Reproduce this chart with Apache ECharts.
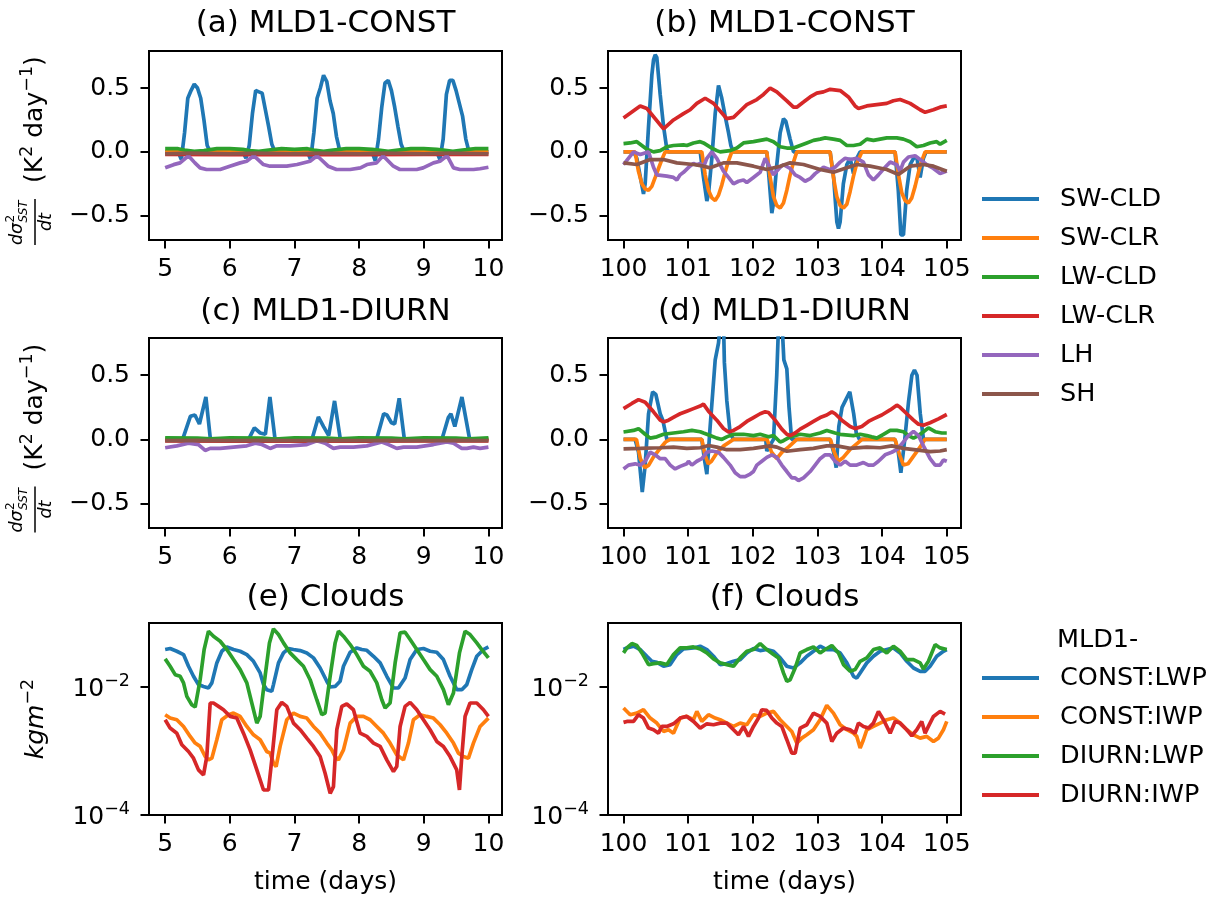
<!DOCTYPE html>
<html><head><meta charset="utf-8">
<script src="https://cdn.jsdelivr.net/npm/echarts@6/dist/echarts.min.js"></script>
<style>html,body{margin:0;padding:0;background:#fff}#c{width:1226px;height:898px}</style>
</head><body><div id="c"></div>
<script>
// ---------- tick values / labels ----------
const xTicksEarly = [5, 6, 7, 8, 9, 10];
const xTicksLate = [100, 101, 102, 103, 104, 105];
const yTicksFlux = [-0.5, 0, 0.5];
const yTicksCloud = [0.0001, 0.01];
const fluxNames = ['SW-CLD', 'SW-CLR', 'LW-CLD', 'LW-CLR', 'LH', 'SH'];
const cloudNames = ['CONST:LWP', 'CONST:IWP', 'DIURN:LWP', 'DIURN:IWP'];
const panelTitles = ['(a) MLD1-CONST', '(b) MLD1-CONST', '(c) MLD1-DIURN', '(d) MLD1-DIURN', '(e) Clouds', '(f) Clouds'];

// ---------- panel (a): MLD1-CONST, days 5-10 ----------
const a_SWCLD = [[5,0],[5.2,0],[5.25,-0.06],[5.3,0.15],[5.35,0.42],[5.4,0.48],[5.45,0.53],[5.5,0.5],[5.55,0.42],[5.6,0.25],[5.65,0.05],[5.7,0],[6.2,0],[6.25,-0.05],[6.3,0.05],[6.35,0.3],[6.4,0.48],[6.45,0.47],[6.5,0.46],[6.55,0.33],[6.6,0.2],[6.65,0.06],[6.7,0],[7.2,0],[7.25,-0.06],[7.3,0.15],[7.35,0.42],[7.4,0.5],[7.45,0.6],[7.5,0.55],[7.55,0.4],[7.6,0.3],[7.65,0.12],[7.7,0.01],[7.75,0],[8.2,0],[8.25,-0.07],[8.3,0.1],[8.35,0.35],[8.4,0.54],[8.45,0.56],[8.5,0.48],[8.55,0.35],[8.6,0.2],[8.65,0.06],[8.7,0],[9.2,0],[9.25,-0.06],[9.3,0.1],[9.35,0.45],[9.4,0.56],[9.45,0.56],[9.5,0.48],[9.55,0.38],[9.6,0.28],[9.65,0.1],[9.7,0],[10,0]];
const a_SWCLR = [[5,0],[6,0],[7,0],[8,0],[9,0],[10,0]];
const a_LWCLD = [[5,0.025],[5.2,0.025],[5.3,0.015],[5.45,0.005],[5.6,0.01],[5.8,0.025],[6.0,0.025],[6.2,0.02],[6.3,0.01],[6.45,0.005],[6.6,0.015],[6.8,0.025],[7.0,0.02],[7.2,0.025],[7.3,0.015],[7.45,0.005],[7.6,0.015],[7.8,0.025],[8.0,0.025],[8.2,0.02],[8.3,0.015],[8.45,0.005],[8.6,0.015],[8.8,0.025],[9.0,0.025],[9.2,0.02],[9.3,0.015],[9.45,0.005],[9.6,0.015],[9.8,0.025],[10,0.025]];
const a_LWCLR = [[5,-0.02],[6,-0.022],[7,-0.02],[8,-0.022],[9,-0.02],[10,-0.02]];
const a_LH = [[5,-0.125],[5.13,-0.1],[5.23,-0.086],[5.36,-0.03],[5.46,-0.086],[5.54,-0.125],[5.64,-0.138],[5.85,-0.138],[6.0,-0.112],[6.16,-0.086],[6.26,-0.073],[6.37,-0.03],[6.52,-0.099],[6.62,-0.112],[6.88,-0.112],[7.04,-0.099],[7.24,-0.073],[7.35,-0.03],[7.52,-0.112],[7.65,-0.138],[7.86,-0.138],[8.02,-0.125],[8.12,-0.099],[8.27,-0.086],[8.37,-0.03],[8.53,-0.112],[8.63,-0.138],[8.89,-0.138],[8.99,-0.125],[9.15,-0.086],[9.25,-0.073],[9.36,-0.03],[9.46,-0.125],[9.56,-0.138],[9.77,-0.138],[9.87,-0.132],[10,-0.12]];
const a_SH = [[5,-0.015],[5.4,-0.01],[6,-0.015],[6.4,-0.01],[7,-0.015],[7.4,-0.01],[8,-0.015],[8.4,-0.01],[9,-0.015],[9.4,-0.01],[10,-0.015]];

// ---------- panel (b): MLD1-CONST, days 100-105 ----------
const b_SWCLD = [[100,0],[100.155,0],[100.206,-0.05],[100.309,-0.33],[100.335,-0.25],[100.387,0.2],[100.438,0.6],[100.464,0.72],[100.49,0.76],[100.515,0.74],[100.567,0.45],[100.619,0.2],[100.67,0.02],[100.7,0],[101.186,0],[101.237,-0.2],[101.289,-0.385],[101.314,-0.33],[101.366,-0.05],[101.418,0.3],[101.469,0.52],[101.52,0.42],[101.572,0.28],[101.624,0.15],[101.66,0.05],[101.7,0],[102.216,0],[102.25,-0.2],[102.294,-0.48],[102.32,-0.4],[102.371,-0.1],[102.423,0.15],[102.474,0.26],[102.51,0.24],[102.577,0.1],[102.629,0],[103.196,0],[103.25,-0.2],[103.3,-0.55],[103.325,-0.6],[103.35,-0.55],[103.4,-0.25],[103.454,-0.1],[103.505,-0.05],[103.557,-0.17],[103.608,-0.05],[103.66,0],[104.2,0],[104.25,-0.3],[104.29,-0.65],[104.33,-0.65],[104.38,-0.3],[104.433,-0.1],[104.485,-0.05],[104.536,-0.04],[104.588,-0.2],[104.639,-0.05],[104.68,0],[105,0]];
const b_SWCLR = [[100,0],[100.18,0],[100.23,-0.15],[100.284,-0.25],[100.335,-0.29],[100.387,-0.3],[100.438,-0.27],[100.49,-0.2],[100.541,-0.13],[100.593,-0.06],[100.644,0],[101.211,0],[101.263,-0.18],[101.314,-0.3],[101.366,-0.36],[101.418,-0.38],[101.469,-0.34],[101.52,-0.26],[101.572,-0.16],[101.624,-0.07],[101.675,0],[102.216,0],[102.268,-0.2],[102.32,-0.35],[102.371,-0.42],[102.423,-0.44],[102.474,-0.4],[102.526,-0.3],[102.577,-0.18],[102.629,-0.08],[102.68,0],[103.196,0],[103.247,-0.2],[103.299,-0.35],[103.351,-0.42],[103.402,-0.44],[103.454,-0.41],[103.505,-0.31],[103.557,-0.19],[103.608,-0.09],[103.686,0],[104.2,0],[104.253,-0.18],[104.304,-0.32],[104.355,-0.38],[104.407,-0.4],[104.459,-0.36],[104.51,-0.27],[104.562,-0.16],[104.613,-0.07],[104.665,0],[105,0]];
const b_LWCLD = [[100,0.065],[100.103,0.07],[100.206,0.08],[100.361,0.02],[100.464,0],[100.567,0.01],[100.67,0.04],[100.773,0.05],[100.928,0.055],[100.979,0.05],[101.082,0.07],[101.186,0.08],[101.237,0.07],[101.366,0.03],[101.443,0.01],[101.495,0],[101.649,0.01],[101.753,0.03],[101.856,0.07],[102.01,0.08],[102.113,0.09],[102.216,0.1],[102.32,0.08],[102.423,0.04],[102.526,0.03],[102.629,0.03],[102.732,0.05],[102.835,0.07],[102.938,0.09],[103.041,0.1],[103.119,0.11],[103.247,0.1],[103.351,0.09],[103.454,0.05],[103.557,0.05],[103.66,0.06],[103.763,0.1],[103.866,0.09],[103.969,0.1],[104.072,0.11],[104.227,0.11],[104.33,0.1],[104.433,0.08],[104.536,0.04],[104.639,0.05],[104.742,0.07],[104.845,0.08],[104.897,0.06],[105,0.09]];
const b_LWCLR = [[100,0.266],[100.258,0.36],[100.361,0.34],[100.619,0.18],[100.773,0.25],[100.928,0.3],[101.031,0.33],[101.134,0.38],[101.263,0.42],[101.392,0.38],[101.598,0.26],[101.701,0.27],[101.804,0.32],[101.907,0.37],[102.062,0.41],[102.165,0.45],[102.268,0.5],[102.371,0.47],[102.526,0.4],[102.629,0.35],[102.68,0.35],[102.784,0.39],[102.887,0.43],[102.99,0.46],[103.093,0.47],[103.196,0.49],[103.351,0.48],[103.479,0.43],[103.582,0.36],[103.634,0.34],[103.763,0.36],[103.918,0.37],[104.072,0.38],[104.175,0.4],[104.278,0.41],[104.433,0.38],[104.588,0.33],[104.665,0.31],[104.794,0.33],[104.897,0.35],[105,0.36]];
const b_LH = [[100,-0.1],[100.155,0],[100.258,-0.02],[100.387,0],[100.464,-0.12],[100.515,-0.18],[100.67,-0.19],[100.773,-0.2],[100.825,-0.22],[100.876,-0.18],[100.928,-0.16],[101.031,-0.11],[101.082,-0.09],[101.134,-0.1],[101.186,-0.09],[101.237,-0.12],[101.289,-0.05],[101.366,0],[101.443,-0.05],[101.546,-0.15],[101.624,-0.2],[101.701,-0.25],[101.778,-0.23],[101.856,-0.22],[101.907,-0.24],[102.01,-0.2],[102.113,-0.16],[102.191,-0.05],[102.242,-0.1],[102.32,-0.18],[102.423,-0.12],[102.474,-0.1],[102.577,-0.13],[102.655,-0.18],[102.732,-0.2],[102.809,-0.23],[102.887,-0.21],[102.964,-0.17],[103.093,-0.12],[103.196,-0.14],[103.273,-0.12],[103.351,-0.08],[103.428,-0.05],[103.505,-0.06],[103.608,-0.05],[103.711,-0.08],[103.789,-0.18],[103.866,-0.22],[103.943,-0.18],[104.046,-0.12],[104.124,-0.08],[104.227,-0.1],[104.278,-0.15],[104.33,-0.08],[104.407,-0.04],[104.51,-0.03],[104.588,-0.06],[104.691,-0.1],[104.794,-0.13],[104.897,-0.17],[105,-0.15]];
const b_SH = [[100,-0.086],[100.206,-0.099],[100.412,-0.06],[100.619,-0.06],[100.825,-0.086],[101.082,-0.099],[101.237,-0.112],[101.34,-0.125],[101.546,-0.086],[101.753,-0.086],[102.01,-0.112],[102.216,-0.138],[102.423,-0.112],[102.577,-0.086],[102.784,-0.099],[103.041,-0.138],[103.247,-0.159],[103.454,-0.125],[103.608,-0.099],[103.814,-0.112],[104.072,-0.138],[104.253,-0.177],[104.433,-0.112],[104.639,-0.099],[104.794,-0.112],[105,-0.151]];

// ---------- panel (c): MLD1-DIURN, days 5-10 ----------
const c_SWCLD = [[5,0],[5.27,0],[5.39,0.18],[5.46,0.19],[5.53,0.12],[5.63,0.33],[5.7,0],[6.29,0],[6.38,0.09],[6.47,0.05],[6.55,0.04],[6.62,0.33],[6.7,0],[7.27,0],[7.37,0.175],[7.45,0.1],[7.53,0.03],[7.62,0.3],[7.71,0],[8.27,0],[8.38,0.2],[8.43,0.19],[8.5,0.13],[8.55,0.12],[8.62,0.32],[8.7,0],[9.28,0],[9.38,0.17],[9.42,0.2],[9.48,0.1],[9.59,0.33],[9.61,0.34],[9.71,0],[10,0]];
const c_SWCLR = [[5,0],[6,0],[7,0],[8,0],[9,0],[10,0]];
const c_LWCLD = [[5,0.012],[5.5,0.01],[5.7,0.005],[6,0.012],[6.5,0.01],[6.7,0.003],[7,0.012],[7.5,0.01],[7.7,0.005],[8,0.012],[8.5,0.01],[8.7,0.005],[9,0.012],[9.5,0.01],[9.7,0.005],[10,0.012]];
const c_LWCLR = [[5,-0.012],[6,-0.013],[7,-0.012],[8,-0.013],[9,-0.012],[10,-0.012]];
const c_LH = [[5,-0.065],[5.18,-0.05],[5.361,-0.03],[5.515,-0.04],[5.619,-0.086],[5.696,-0.07],[5.851,-0.07],[6.057,-0.06],[6.263,-0.05],[6.392,-0.03],[6.495,-0.04],[6.624,-0.07],[6.727,-0.05],[6.933,-0.05],[7.191,-0.04],[7.345,-0.01],[7.474,-0.03],[7.603,-0.07],[7.706,-0.06],[7.912,-0.06],[8.119,-0.05],[8.351,-0.02],[8.454,-0.04],[8.582,-0.07],[8.686,-0.06],[8.892,-0.06],[9.149,-0.04],[9.356,-0.02],[9.459,-0.03],[9.588,-0.07],[9.665,-0.07],[9.768,-0.06],[9.871,-0.07],[10,-0.06]];
const c_SH = [[5,-0.01],[5.5,-0.008],[6,-0.01],[6.5,-0.008],[7,-0.01],[7.5,-0.008],[8,-0.01],[8.5,-0.008],[9,-0.01],[9.5,-0.008],[10,-0.01]];

// ---------- panel (d): MLD1-DIURN, days 100-105 ----------
const d_SWCLD = [[100,0],[100.18,0],[100.232,-0.1],[100.29,-0.41],[100.335,-0.2],[100.387,0.2],[100.45,0.37],[100.5,0.35],[100.567,0.2],[100.608,0.15],[100.67,0],[101.211,0],[101.25,-0.15],[101.289,-0.27],[101.34,0.1],[101.418,0.62],[101.469,0.75],[101.5,0.92],[101.546,0.92],[101.56,0.6],[101.598,0.3],[101.649,0.05],[101.7,0],[102.2,0],[102.216,-0.09],[102.32,0],[102.37,0.5],[102.4,0.92],[102.45,0.92],[102.48,0.62],[102.526,0.55],[102.56,0.25],[102.6,0],[103.196,0],[103.25,-0.1],[103.29,-0.22],[103.33,0.1],[103.38,0.25],[103.43,0.3],[103.5,0.37],[103.56,0.2],[103.6,0.05],[103.65,0],[104.2,0],[104.25,-0.1],[104.29,-0.26],[104.35,0],[104.41,0.3],[104.46,0.5],[104.5,0.54],[104.54,0.5],[104.59,0.2],[104.64,0],[105,0]];
const d_SWCLR = [[100,0],[100.2,0],[100.26,-0.15],[100.33,-0.22],[100.39,-0.2],[100.46,-0.14],[100.55,-0.08],[100.65,-0.02],[100.72,0],[101.211,0],[101.26,-0.12],[101.31,-0.19],[101.36,-0.17],[101.45,-0.1],[101.55,-0.05],[101.7,0],[102.22,0],[102.29,-0.1],[102.37,-0.15],[102.45,-0.1],[102.55,-0.06],[102.68,0],[103.2,0],[103.26,-0.1],[103.32,-0.17],[103.4,-0.14],[103.5,-0.08],[103.69,0],[104.2,0],[104.27,-0.12],[104.33,-0.2],[104.4,-0.19],[104.5,-0.12],[104.6,-0.05],[104.66,0],[105,0]];
const d_LWCLD = [[100,0.058],[100.155,0.07],[100.232,0.084],[100.335,0.04],[100.412,0.01],[100.515,0.02],[100.619,0.04],[100.773,0.05],[100.928,0.06],[101.057,0.07],[101.186,0.06],[101.237,0.05],[101.34,0.03],[101.443,0.01],[101.521,0],[101.598,0.02],[101.701,0.04],[101.856,0.04],[102.01,0.03],[102.113,0.04],[102.242,0.02],[102.32,0.03],[102.423,-0.02],[102.474,-0.01],[102.577,0.02],[102.732,0.04],[102.887,0.03],[103.041,0.05],[103.144,0.07],[103.273,0.05],[103.351,0.04],[103.557,0.03],[103.66,0.04],[103.763,0.03],[103.84,0.02],[103.918,0.01],[104.021,0.04],[104.124,0.07],[104.227,0.07],[104.33,0.06],[104.407,0.03],[104.485,0.01],[104.562,0.03],[104.665,0.07],[104.716,0.09],[104.82,0.06],[104.923,0.05],[105,0.05]];
const d_LWCLR = [[100,0.24],[100.129,0.28],[100.232,0.31],[100.335,0.29],[100.464,0.215],[100.567,0.15],[100.619,0.136],[100.696,0.15],[100.799,0.18],[100.876,0.2],[100.979,0.22],[101.082,0.24],[101.186,0.26],[101.237,0.275],[101.314,0.22],[101.443,0.15],[101.546,0.085],[101.624,0.058],[101.701,0.07],[101.804,0.1],[101.907,0.14],[102.01,0.17],[102.113,0.2],[102.191,0.215],[102.242,0.21],[102.345,0.15],[102.448,0.08],[102.526,0.04],[102.577,0.03],[102.655,0.05],[102.732,0.08],[102.835,0.11],[102.938,0.14],[103.041,0.17],[103.144,0.19],[103.222,0.215],[103.273,0.2],[103.376,0.15],[103.505,0.1],[103.582,0.084],[103.686,0.1],[103.789,0.14],[103.866,0.16],[103.995,0.19],[104.124,0.23],[104.227,0.267],[104.278,0.25],[104.381,0.2],[104.485,0.15],[104.562,0.118],[104.639,0.11],[104.742,0.13],[104.871,0.16],[105,0.194]];
const d_LH = [[100,-0.23],[100.077,-0.2],[100.18,-0.19],[100.258,-0.2],[100.335,-0.17],[100.412,-0.1],[100.49,-0.12],[100.567,-0.15],[100.644,-0.15],[100.722,-0.2],[100.799,-0.23],[100.876,-0.21],[100.979,-0.19],[101.005,-0.17],[101.057,-0.2],[101.134,-0.17],[101.211,-0.15],[101.289,-0.1],[101.366,-0.09],[101.469,-0.1],[101.546,-0.14],[101.649,-0.2],[101.727,-0.26],[101.804,-0.29],[101.881,-0.29],[101.959,-0.27],[102.01,-0.25],[102.062,-0.2],[102.139,-0.17],[102.216,-0.14],[102.294,-0.12],[102.371,-0.14],[102.448,-0.2],[102.526,-0.25],[102.603,-0.3],[102.655,-0.3],[102.706,-0.32],[102.784,-0.3],[102.887,-0.25],[102.964,-0.2],[103.041,-0.15],[103.119,-0.12],[103.196,-0.12],[103.273,-0.17],[103.351,-0.2],[103.428,-0.17],[103.505,-0.2],[103.608,-0.2],[103.711,-0.18],[103.789,-0.2],[103.866,-0.2],[103.943,-0.17],[104.046,-0.12],[104.149,-0.1],[104.227,-0.08],[104.33,-0.02],[104.407,0.03],[104.485,0.063],[104.562,0.03],[104.639,-0.05],[104.742,-0.15],[104.82,-0.2],[104.897,-0.2],[104.948,-0.16],[105,-0.17]];
const d_SH = [[100,-0.073],[100.258,-0.07],[100.567,-0.065],[100.773,-0.06],[100.979,-0.07],[101.186,-0.065],[101.314,-0.047],[101.443,-0.06],[101.598,-0.08],[101.804,-0.08],[102.01,-0.07],[102.268,-0.05],[102.371,-0.06],[102.526,-0.092],[102.732,-0.08],[102.938,-0.07],[103.144,-0.05],[103.299,-0.05],[103.505,-0.07],[103.763,-0.06],[103.969,-0.065],[104.149,-0.05],[104.33,-0.07],[104.588,-0.085],[104.742,-0.095],[104.897,-0.09],[105,-0.08]];

// ---------- panel (e): clouds, days 5-10 (kg m^-2) ----------
const e_CONST_LWP = [[5,0.0385],[5.077,0.0399],[5.18,0.0362],[5.284,0.0321],[5.361,0.0211],[5.438,0.0147],[5.515,0.0109],[5.593,0.0102],[5.67,0.00965],[5.722,0.0116],[5.799,0.0238],[5.876,0.0362],[5.954,0.0423],[6.057,0.0385],[6.16,0.0362],[6.263,0.0321],[6.366,0.0252],[6.469,0.0166],[6.521,0.0109],[6.572,0.00908],[6.649,0.00855],[6.675,0.0109],[6.753,0.0238],[6.83,0.0341],[6.907,0.0399],[6.985,0.0385],[7.088,0.0371],[7.191,0.0341],[7.294,0.0285],[7.397,0.0198],[7.5,0.0123],[7.552,0.01],[7.629,0.0102],[7.706,0.0123],[7.758,0.0211],[7.861,0.0349],[7.964,0.0408],[8.041,0.0385],[8.119,0.0375],[8.222,0.0302],[8.325,0.0238],[8.428,0.0147],[8.531,0.00965],[8.608,0.00965],[8.711,0.0138],[8.789,0.0268],[8.892,0.0385],[8.995,0.0399],[9.098,0.0362],[9.201,0.0349],[9.304,0.0268],[9.407,0.0147],[9.51,0.00908],[9.588,0.00908],[9.665,0.0109],[9.742,0.0187],[9.82,0.0302],[9.923,0.0385],[10,0.0423]];
const e_CONST_IWP = [[5,0.00369],[5.077,0.00327],[5.18,0.00308],[5.284,0.00242],[5.387,0.00169],[5.464,0.00133],[5.541,0.00118],[5.619,0.000819],[5.67,0.000727],[5.722,0.000772],[5.799,0.0015],[5.876,0.00308],[5.979,0.00369],[6.057,0.00391],[6.16,0.00347],[6.263,0.00242],[6.366,0.00179],[6.469,0.0015],[6.572,0.000982],[6.624,0.000925],[6.675,0.000645],[6.716,0.000572],[6.778,0.00118],[6.881,0.00308],[6.985,0.00391],[7.088,0.00347],[7.191,0.00327],[7.294,0.00242],[7.397,0.0019],[7.5,0.00133],[7.577,0.00104],[7.629,0.000819],[7.68,0.000727],[7.758,0.00104],[7.861,0.00273],[7.964,0.00347],[8.067,0.00347],[8.17,0.00308],[8.273,0.00242],[8.376,0.0019],[8.479,0.00133],[8.582,0.000871],[8.686,0.000727],[8.763,0.00133],[8.84,0.00308],[8.943,0.00369],[9.046,0.00347],[9.149,0.00327],[9.253,0.00257],[9.356,0.0019],[9.459,0.00133],[9.536,0.000925],[9.613,0.000819],[9.691,0.000772],[9.768,0.00133],[9.871,0.00242],[10,0.00327]];
const e_DIURN_LWP = [[5,0.0275],[5.077,0.0211],[5.155,0.0156],[5.232,0.0147],[5.284,0.0116],[5.335,0.00714],[5.412,0.00529],[5.464,0.00486],[5.541,0.013],[5.603,0.0385],[5.67,0.0745],[5.747,0.0622],[5.851,0.0519],[5.954,0.0385],[6.057,0.0268],[6.16,0.0187],[6.263,0.0116],[6.34,0.00562],[6.418,0.00273],[6.469,0.00347],[6.546,0.0147],[6.613,0.0489],[6.675,0.081],[6.753,0.066],[6.83,0.0489],[6.933,0.0341],[7.036,0.0268],[7.139,0.0211],[7.242,0.013],[7.345,0.00633],[7.423,0.00369],[7.474,0.00391],[7.552,0.0147],[7.629,0.0489],[7.68,0.0745],[7.758,0.0622],[7.861,0.046],[7.964,0.0321],[8.067,0.0211],[8.17,0.0176],[8.273,0.0116],[8.351,0.00633],[8.402,0.00469],[8.479,0.00562],[8.557,0.0238],[8.634,0.0702],[8.711,0.0718],[8.789,0.0551],[8.892,0.0385],[8.995,0.0268],[9.098,0.0187],[9.201,0.0147],[9.304,0.00908],[9.381,0.00529],[9.459,0.00805],[9.552,0.0341],[9.639,0.0745],[9.716,0.066],[9.82,0.0489],[9.897,0.0385],[10,0.0285]];
const e_DIURN_IWP = [[5,0.00308],[5.077,0.00228],[5.18,0.0019],[5.258,0.00125],[5.361,0.000982],[5.438,0.000772],[5.515,0.000507],[5.593,0.000423],[5.644,0.000819],[5.696,0.00562],[5.747,0.00562],[5.825,0.00498],[5.902,0.00441],[6.005,0.00347],[6.108,0.00327],[6.211,0.0019],[6.314,0.00104],[6.418,0.000507],[6.521,0.000246],[6.598,0.000246],[6.649,0.000727],[6.727,0.00441],[6.804,0.00575],[6.881,0.00498],[6.985,0.00273],[7.088,0.00215],[7.191,0.00159],[7.294,0.00118],[7.397,0.000819],[7.474,0.000449],[7.552,0.000218],[7.603,0.000278],[7.655,0.00215],[7.732,0.00498],[7.809,0.00542],[7.912,0.00441],[8.015,0.0019],[8.119,0.00169],[8.222,0.00133],[8.325,0.00118],[8.428,0.000727],[8.531,0.000477],[8.582,0.000572],[8.634,0.00242],[8.711,0.00498],[8.789,0.00575],[8.892,0.00441],[8.995,0.00308],[9.098,0.00215],[9.201,0.00141],[9.304,0.00118],[9.407,0.000819],[9.51,0.000507],[9.552,0.000246],[9.588,0.000819],[9.639,0.00347],[9.716,0.00562],[9.82,0.00562],[9.923,0.00441],[10,0.00347]];

// ---------- panel (f): clouds, days 100-105 (kg m^-2) ----------
const f_CONST_LWP = [[100,0.0385],[100.052,0.0408],[100.155,0.0434],[100.258,0.0385],[100.361,0.0302],[100.438,0.0252],[100.515,0.0243],[100.619,0.0211],[100.722,0.0224],[100.825,0.0321],[100.928,0.0394],[101.082,0.0408],[101.186,0.0434],[101.289,0.0385],[101.392,0.0302],[101.495,0.0224],[101.598,0.0232],[101.701,0.0252],[101.804,0.0268],[101.907,0.0341],[102.01,0.0399],[102.113,0.0371],[102.216,0.0385],[102.32,0.0362],[102.423,0.0285],[102.526,0.0211],[102.629,0.0198],[102.732,0.0238],[102.835,0.0302],[102.938,0.0362],[103.041,0.0434],[103.144,0.0385],[103.247,0.0385],[103.351,0.0341],[103.454,0.0238],[103.557,0.0147],[103.608,0.0138],[103.66,0.0166],[103.763,0.0238],[103.866,0.0302],[103.969,0.0362],[104.072,0.0385],[104.175,0.0408],[104.278,0.0341],[104.381,0.0252],[104.485,0.0198],[104.588,0.0176],[104.665,0.0176],[104.742,0.0211],[104.845,0.0302],[104.948,0.0362],[105,0.0385]];
const f_CONST_IWP = [[100,0.00469],[100.103,0.00369],[100.206,0.00391],[100.309,0.00441],[100.412,0.00327],[100.515,0.00273],[100.619,0.00202],[100.696,0.00215],[100.773,0.0019],[100.876,0.00327],[100.979,0.00347],[101.082,0.00308],[101.134,0.00416],[101.211,0.0029],[101.314,0.00369],[101.418,0.00327],[101.495,0.00308],[101.598,0.00273],[101.701,0.00242],[101.804,0.00273],[101.907,0.00257],[102.01,0.00369],[102.113,0.00347],[102.216,0.00391],[102.32,0.00416],[102.423,0.00308],[102.526,0.00242],[102.603,0.00202],[102.68,0.00133],[102.758,0.00159],[102.835,0.00179],[102.938,0.00215],[103.041,0.00308],[103.144,0.00516],[103.247,0.00391],[103.351,0.00257],[103.454,0.00215],[103.557,0.0019],[103.608,0.00169],[103.66,0.00111],[103.711,0.0015],[103.763,0.00215],[103.866,0.00242],[103.969,0.00273],[104.072,0.00308],[104.175,0.00327],[104.278,0.00273],[104.381,0.00215],[104.485,0.00179],[104.588,0.00159],[104.691,0.00169],[104.794,0.00141],[104.871,0.00159],[104.948,0.00215],[105,0.0029]];
const f_DIURN_LWP = [[100,0.0341],[100.052,0.0408],[100.129,0.0477],[100.206,0.0444],[100.284,0.0341],[100.387,0.0224],[100.464,0.0232],[100.567,0.0238],[100.67,0.0224],[100.773,0.0321],[100.876,0.0408],[100.979,0.0408],[101.082,0.0423],[101.186,0.0394],[101.289,0.0341],[101.392,0.0275],[101.495,0.0238],[101.598,0.0224],[101.701,0.0211],[101.804,0.0285],[101.907,0.0362],[102.01,0.0385],[102.113,0.0477],[102.216,0.0385],[102.32,0.0321],[102.397,0.0285],[102.474,0.0166],[102.526,0.0123],[102.577,0.013],[102.655,0.0198],[102.732,0.0341],[102.835,0.0385],[102.938,0.0423],[103.041,0.0341],[103.119,0.0385],[103.222,0.0444],[103.325,0.0341],[103.402,0.0224],[103.505,0.0176],[103.582,0.0187],[103.66,0.0252],[103.763,0.0285],[103.866,0.0385],[103.969,0.0408],[104.072,0.0341],[104.175,0.0434],[104.278,0.0362],[104.381,0.0268],[104.485,0.0268],[104.588,0.0238],[104.639,0.0191],[104.716,0.0252],[104.82,0.046],[104.897,0.0408],[105,0.0385]];
const f_DIURN_IWP = [[100,0.0028],[100.052,0.0029],[100.155,0.0029],[100.232,0.00369],[100.309,0.00327],[100.387,0.00228],[100.464,0.00215],[100.541,0.0019],[100.593,0.00242],[100.67,0.00242],[100.773,0.00266],[100.876,0.00327],[100.979,0.00347],[101.082,0.0029],[101.186,0.00228],[101.289,0.00266],[101.392,0.00257],[101.495,0.00273],[101.598,0.00273],[101.701,0.00215],[101.778,0.00179],[101.856,0.00242],[101.933,0.00169],[102.01,0.00242],[102.088,0.00327],[102.139,0.00441],[102.216,0.00431],[102.294,0.00327],[102.371,0.00273],[102.448,0.00242],[102.526,0.0015],[102.603,0.000925],[102.655,0.000925],[102.732,0.00228],[102.835,0.00257],[102.938,0.00391],[103.041,0.00347],[103.144,0.00273],[103.222,0.00141],[103.299,0.0019],[103.402,0.00228],[103.505,0.00215],[103.582,0.0019],[103.634,0.00273],[103.711,0.00242],[103.789,0.00228],[103.866,0.00273],[103.943,0.00416],[104.021,0.00308],[104.124,0.0019],[104.201,0.0029],[104.278,0.00273],[104.381,0.00215],[104.459,0.00173],[104.536,0.00215],[104.613,0.0029],[104.665,0.0019],[104.716,0.00242],[104.794,0.00347],[104.897,0.00416],[104.974,0.00378]];

// ---------- build the chart ----------
const FONT = '"DejaVu Sans", sans-serif';
const fluxColors = ['#1f77b4', '#ff7f0e', '#2ca02c', '#d62728', '#9467bd', '#8c564b'];
const cloudColors = ['#1f77b4', '#ff7f0e', '#2ca02c', '#d62728'];
const fluxData = [
  [a_SWCLD, a_SWCLR, a_LWCLD, a_LWCLR, a_LH, a_SH],
  [b_SWCLD, b_SWCLR, b_LWCLD, b_LWCLR, b_LH, b_SH],
  [c_SWCLD, c_SWCLR, c_LWCLD, c_LWCLR, c_LH, c_SH],
  [d_SWCLD, d_SWCLR, d_LWCLD, d_LWCLR, d_LH, d_SH]
];
const cloudData = [
  [e_CONST_LWP, e_CONST_IWP, e_DIURN_LWP, e_DIURN_IWP],
  [f_CONST_LWP, f_CONST_IWP, f_DIURN_LWP, f_DIURN_IWP]
];

const gridBoxes = [
  {left: 149, top: 51, width: 353, height: 189},
  {left: 608, top: 51, width: 353, height: 189},
  {left: 149, top: 338, width: 353, height: 190},
  {left: 608, top: 338, width: 353, height: 190},
  {left: 149, top: 623, width: 353, height: 192},
  {left: 608, top: 623, width: 353, height: 192}
];
const titleY = [24, 24, 312, 312, 598, 598];

const supRich = {
  b: {fontSize: 25, fontFamily: FONT, color: '#000', verticalAlign: 'bottom'},
  i: {fontSize: 25, fontFamily: FONT, color: '#000', fontStyle: 'italic', verticalAlign: 'bottom'},
  s: {fontSize: 17.5, fontFamily: FONT, color: '#000', verticalAlign: 'top', padding: [0, 0, 12, 0]}
};

const grid = gridBoxes.map(g => Object.assign({show: true, borderColor: '#000', borderWidth: 2, backgroundColor: 'transparent', containLabel: false}, g));

const xAxis = gridBoxes.map((g, i) => {
  const late = i % 2 === 1;
  const ticks = late ? xTicksLate : xTicksEarly;
  const ax = {
    type: 'value', gridIndex: i, position: 'bottom',
    min: late ? 99.76 : 4.75, max: late ? 105.22 : 10.21,
    axisLine: {show: false, onZero: false}, splitLine: {show: false},
    axisTick: {show: true, length: 8.5, lineStyle: {width: 2, color: '#000'}, customValues: ticks},
    axisLabel: {customValues: ticks, margin: 17, fontSize: 25, fontFamily: FONT, color: '#000', formatter: v => String(Math.round(v))}
  };
  if (i >= 4) {
    ax.name = 'time (days)';
    ax.nameLocation = 'middle';
    ax.nameGap = 55;
    ax.nameTextStyle = {fontSize: 25, fontFamily: FONT, color: '#000'};
  }
  return ax;
});

const yAxis = gridBoxes.map((g, i) => {
  if (i < 4) {
    return {
      type: 'value', gridIndex: i, position: 'left', min: -0.69, max: 0.79,
      axisLine: {show: false, onZero: false}, splitLine: {show: false},
      axisTick: {show: true, length: 8.5, lineStyle: {width: 2, color: '#000'}, customValues: yTicksFlux},
      axisLabel: {customValues: yTicksFlux, margin: 19, fontSize: 25, fontFamily: FONT, color: '#000',
        formatter: v => (v < 0 ? '\u2212' : '') + Math.abs(v).toFixed(1)}
    };
  }
  const ax = {
    type: 'log', logBase: 10, gridIndex: i, position: 'left', min: 0.0001, max: 0.1,
    axisLine: {show: false, onZero: false}, splitLine: {show: false}, minorTick: {show: false},
    axisTick: {show: true, length: 8.5, lineStyle: {width: 2, color: '#000'}, customValues: yTicksCloud},
    axisLabel: {customValues: yTicksCloud, margin: 19, fontFamily: FONT, color: '#000', rich: supRich,
      formatter: v => '{b|10}{s|\u2212' + Math.round(-Math.log10(v)) + '}'}
  };
  if (i === 4) {
    ax.name = '{i|kgm}{s|\u22122}';
    ax.nameLocation = 'middle';
    ax.nameRotate = 90;
    ax.nameGap = 100;
    ax.nameTextStyle = {rich: supRich};
  }
  return ax;
});

const series = [];
fluxData.forEach((arrs, gi) => {
  arrs.forEach((d, k) => {
    series.push({type: 'line', name: fluxNames[k], data: d, xAxisIndex: gi, yAxisIndex: gi,
      symbol: 'none', showSymbol: false, clip: true, animation: false,
      lineStyle: {width: 3.7, color: fluxColors[k]}, itemStyle: {color: fluxColors[k]}});
  });
});
cloudData.forEach((arrs, j) => {
  const gi = 4 + j;
  arrs.forEach((d, k) => {
    series.push({type: 'line', name: cloudNames[k], data: d, xAxisIndex: gi, yAxisIndex: gi,
      symbol: 'none', showSymbol: false, clip: true, animation: false,
      lineStyle: {width: 3.7, color: cloudColors[k]}, itemStyle: {color: cloudColors[k]}});
  });
});

const title = gridBoxes.map((g, i) => ({
  text: panelTitles[i], left: g.left + g.width / 2, top: titleY[i], padding: 0,
  textAlign: 'center', textVerticalAlign: 'middle',
  textStyle: {fontSize: 31, fontWeight: 'normal', fontFamily: FONT, color: '#000'}
}));
title.push({text: 'MLD1-', left: 1057, top: 640, padding: 0, textAlign: 'left', textVerticalAlign: 'middle',
  textStyle: {fontSize: 25.5, fontWeight: 'normal', fontFamily: FONT, color: '#000'}});

const legendCommon = {orient: 'vertical', icon: 'rect', itemWidth: 57, itemHeight: 4, itemGap: 9, padding: 0,
  selectedMode: false,
  textStyle: {fontSize: 25.5, fontFamily: FONT, color: '#000', lineHeight: 30, padding: [0, 0, 0, 16]}};
const legend = [
  Object.assign({}, legendCommon, {data: fluxNames, left: 982, top: 184}),
  Object.assign({}, legendCommon, {data: cloudNames, left: 982, top: 663})
];

function fracLabel(cy) {
  const rich = {
    t: {fontSize: 25, fontFamily: FONT, fill: '#000', verticalAlign: 'bottom'},
    s: {fontSize: 17.5, fontFamily: FONT, fill: '#000', verticalAlign: 'top', padding: [0, 0, 12, 0]}
  };
  return {
    type: 'group', x: 33, y: cy, rotation: Math.PI / 2, silent: true,
    children: [
      {type: 'text', x: -37.5, y: 0, style: {text: '{t|(K}{s|2}{t| day}{s|\u22121}{t|)}', rich: rich, align: 'left', verticalAlign: 'middle'}},
      {type: 'text', x: -99.5, y: -16, style: {text: 'd\u03c3', font: 'italic 17.5px "DejaVu Sans"', fill: '#000', align: 'left', verticalAlign: 'middle'}},
      {type: 'text', x: -77, y: -22, style: {text: '2', font: '12px "DejaVu Sans"', fill: '#000', align: 'left', verticalAlign: 'middle'}},
      {type: 'text', x: -77, y: -9, style: {text: 'SST', font: 'italic 12px "DejaVu Sans"', fill: '#000', align: 'left', verticalAlign: 'middle'}},
      {type: 'line', shape: {x1: -99.5, y1: 2, x2: -53.5, y2: 2}, style: {stroke: '#000', lineWidth: 1.5}},
      {type: 'text', x: -76.5, y: 13, style: {text: 'dt', font: 'italic 17.5px "DejaVu Sans"', fill: '#000', align: 'center', verticalAlign: 'middle'}}
    ]
  };
}

const chart = echarts.init(document.getElementById('c'), null, {renderer: 'canvas'});
chart.setOption({
  backgroundColor: '#fff',
  animation: false,
  title: title,
  legend: legend,
  grid: grid,
  xAxis: xAxis,
  yAxis: yAxis,
  series: series,
  graphic: [fracLabel(145.5), fracLabel(433)]
});
</script>
</body></html>
